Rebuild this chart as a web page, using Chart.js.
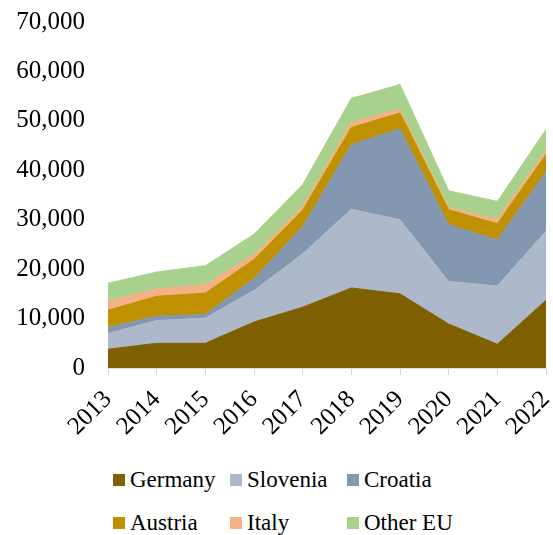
<!DOCTYPE html>
<html>
<head>
<meta charset="utf-8">
<script src="https://cdn.jsdelivr.net/npm/chart.js@4"></script>
<style>
  body { margin: 0; background: #fff; }
  #wrap { position: absolute; left: 0; top: 0; width: 553px; height: 440px; }
  #legend {
    position: absolute; left: 113px; top: 466px;
    display: grid; grid-template-columns: 117px 117px 117px; row-gap: 15px;
    font-family: "Liberation Serif", serif; font-size: 23px; color: #000;
  }
  .item { display: flex; align-items: center; height: 28px; white-space: nowrap; }
  .box { width: 12px; height: 12px; margin-right: 5px; flex: none; }
</style>
</head>
<body>
<div id="wrap"><canvas id="areachart"></canvas></div>
<div id="legend"></div>
<script>
var years = ["2013", "2014", "2015", "2016", "2017", "2018", "2019", "2020", "2021", "2022"];
var germany = [3800, 5000, 5000, 9300, 12300, 16200, 15000, 8900, 4800, 13700];
var slovenia = [3200, 4600, 5100, 6400, 10800, 15900, 15000, 8600, 11800, 14000];
var croatia = [1200, 900, 700, 2400, 5500, 13100, 18400, 11500, 9300, 12000];
var austria = [3500, 4000, 4350, 3850, 3300, 3450, 3200, 3000, 3300, 3500];
var italy = [1800, 1500, 1700, 1000, 700, 1000, 750, 450, 850, 850];
var otherEU = [3650, 3400, 3850, 4100, 4500, 4900, 5000, 3400, 3650, 4200];

var seriesNames = ["Germany", "Slovenia", "Croatia", "Austria", "Italy", "Other EU"];
var seriesData = [germany, slovenia, croatia, austria, italy, otherEU];
var seriesColors = ["#7f6000", "#adb9ca", "#8497b0", "#bf9000", "#f4b183", "#a9d18e"];

var datasets = [];
for (var i = 0; i < seriesNames.length; i++) {
  datasets.push({
    label: seriesNames[i],
    data: seriesData[i],
    backgroundColor: seriesColors[i],
    borderColor: seriesColors[i],
    borderWidth: 1,
    pointRadius: 0,
    tension: 0,
    fill: i === 0 ? 'origin' : '-1'
  });
}

var tickFont = { family: 'Liberation Serif', size: 25 };

var chart = new Chart(document.getElementById("areachart"), {
  type: 'line',
  data: { labels: years, datasets: datasets },
  options: {
    responsive: true,
    maintainAspectRatio: false,
    animation: false,
    layout: { padding: { top: 22, right: 7, left: 0, bottom: 0 } },
    plugins: {
      legend: { display: false },
      tooltip: { enabled: false }
    },
    scales: {
      x: {
        offset: false,
        grid: { display: true, drawOnChartArea: false, drawTicks: true, tickLength: 7, color: '#d9d9d9' },
        border: { display: true, color: '#d9d9d9' },
        ticks: { color: '#000', font: tickFont, minRotation: 45, maxRotation: 45, padding: 10 },
        afterFit: function (scale) {
          scale.paddingLeft = 0;
          scale.paddingRight = 0;
          scale.height = 72;
        }
      },
      y: {
        stacked: true,
        min: 0,
        max: 70000,
        grid: { display: false, drawTicks: false },
        border: { display: false },
        ticks: {
          stepSize: 10000,
          color: '#000',
          font: tickFont,
          padding: 23,
          callback: function (v) { return v.toLocaleString('en-US'); }
        },
        afterFit: function (scale) {
          scale.paddingTop = 0;
          scale.paddingBottom = 0;
          scale.width = 108;
        }
      }
    }
  }
});

var legend = document.getElementById("legend");
chart.data.datasets.forEach(function (ds) {
  var item = document.createElement("div");
  item.className = "item";
  var box = document.createElement("span");
  box.className = "box";
  box.style.background = ds.backgroundColor;
  item.appendChild(box);
  item.appendChild(document.createTextNode(ds.label));
  legend.appendChild(item);
});
</script>
</body>
</html>
